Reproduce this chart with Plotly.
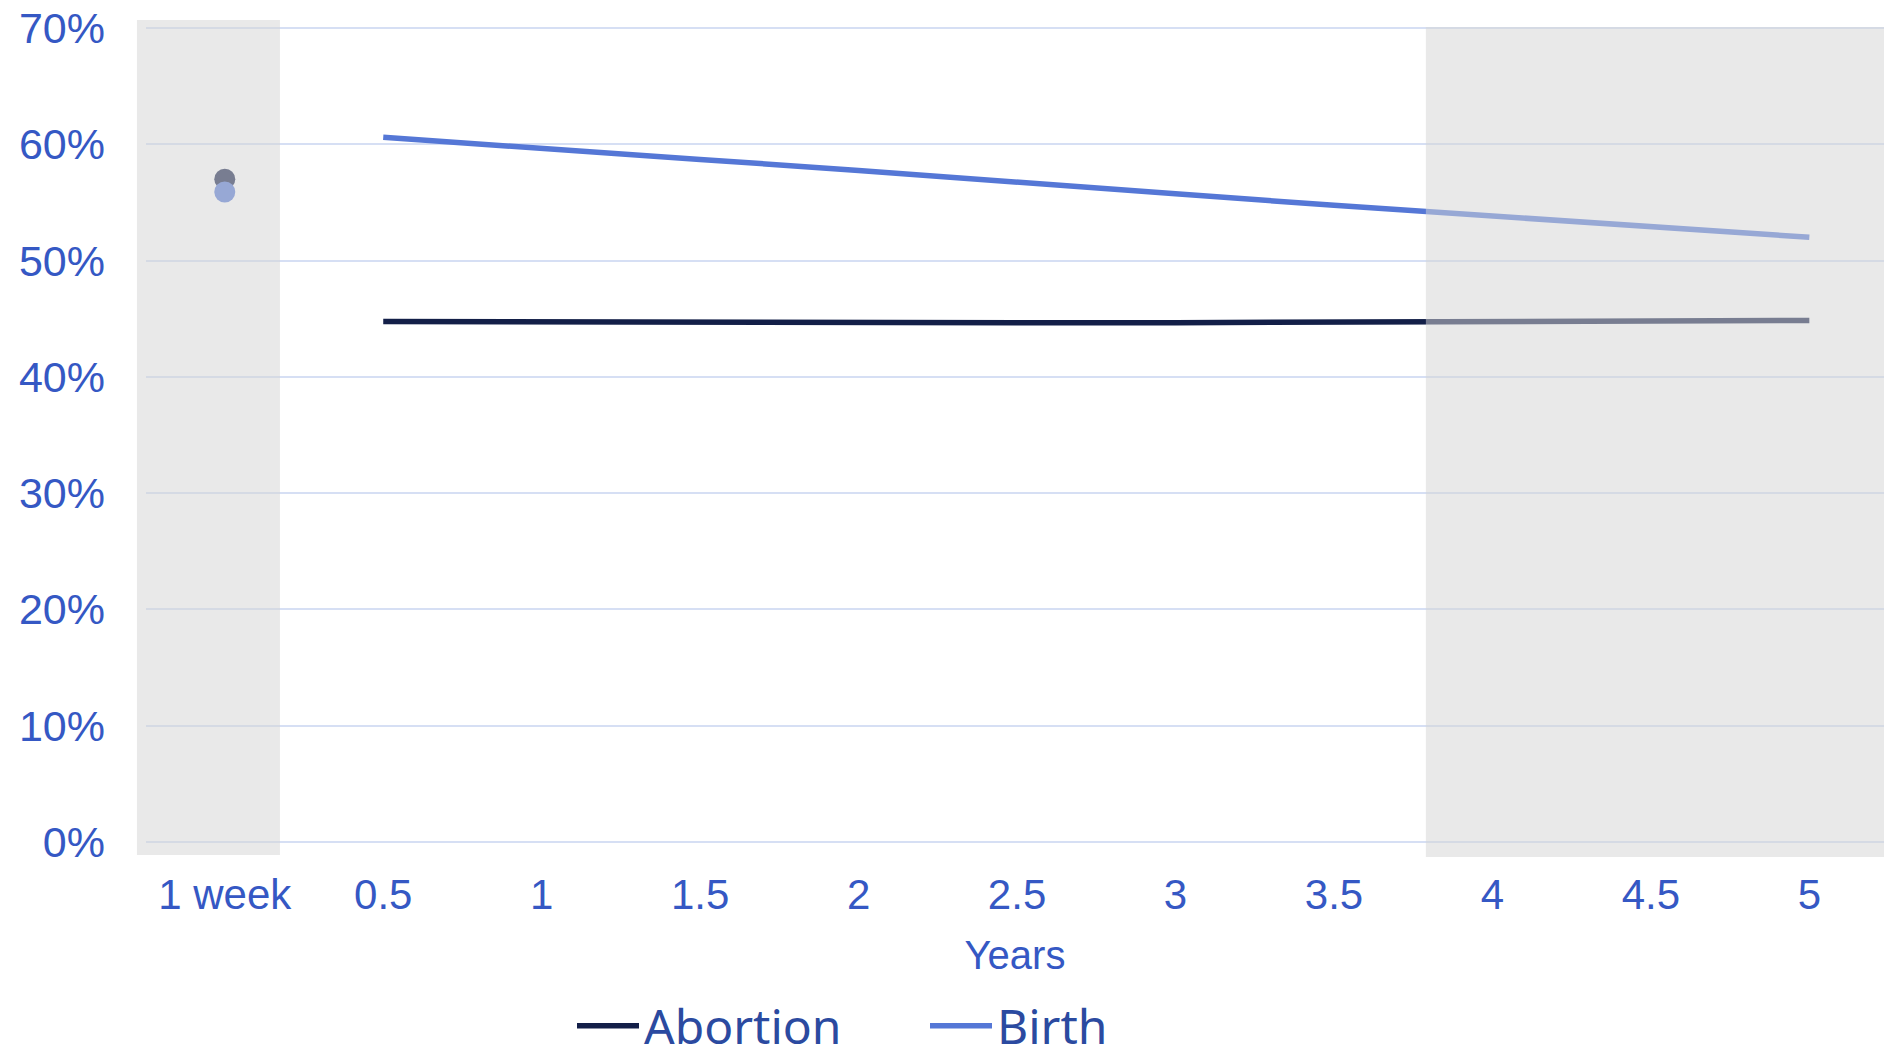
import plotly.graph_objects as go

# ---------------- data ----------------
years = [0.5, 1, 1.5, 2, 2.5, 3, 3.5, 4, 4.5, 5]
abortion = [44.75, 44.7, 44.68, 44.65, 44.65, 44.66, 44.7, 44.75, 44.8, 44.85]
birth = [60.6, 59.6, 58.7, 57.75, 56.8, 55.75, 54.75, 53.8, 52.9, 52.0]

week_x = [0]
week_abortion = [57.0]
week_birth = [55.9]

tick_vals = [0, 0.5, 1, 1.5, 2, 2.5, 3, 3.5, 4, 4.5, 5]
tick_text = ["1 week", "0.5", "1", "1.5", "2", "2.5", "3", "3.5", "4", "4.5", "5"]
y_ticks = [0, 10, 20, 30, 40, 50, 60, 70]
y_tick_text = ["0%", "10%", "20%", "30%", "40%", "50%", "60%", "70%"]

# shaded (data-unit) regions: (x0, x1, y0, y1)
shade_left = (-0.277, 0.174, -1.12, 70.69)
shade_right = (3.79, 5.2356, -1.29, 70.09)

X_RANGE = [-0.2486, 5.2356]
Y_RANGE = [-0.344, 70.344]

ABORTION_COLOR = "#131f48"
BIRTH_COLOR = "#5577d6"
TICK_COLOR = "#3558c4"
LEGEND_COLOR = "#2b4aa0"

fig = go.Figure()

fig.add_trace(go.Scatter(x=years, y=abortion, mode="lines", name="Abortion",
                         line=dict(color=ABORTION_COLOR, width=5.5)))
fig.add_trace(go.Scatter(x=years, y=birth, mode="lines", name="Birth",
                         line=dict(color=BIRTH_COLOR, width=5.5)))
fig.add_trace(go.Scatter(x=week_x, y=week_abortion, mode="markers", showlegend=False,
                         marker=dict(color=ABORTION_COLOR, size=21)))
fig.add_trace(go.Scatter(x=week_x, y=week_birth, mode="markers", showlegend=False,
                         marker=dict(color=BIRTH_COLOR, size=21)))


def to_dom(v, rng):
    return (v - rng[0]) / (rng[1] - rng[0])


for (x0, x1, y0, y1) in (shade_left, shade_right):
    fig.add_shape(type="rect", xref="x domain", yref="y domain",
                  x0=to_dom(x0, X_RANGE), x1=to_dom(x1, X_RANGE),
                  y0=to_dom(y0, Y_RANGE), y1=to_dom(y1, Y_RANGE),
                  fillcolor="rgba(212,212,212,0.52)", line=dict(width=0),
                  layer="above")

fig.update_layout(
    width=1884, height=1062,
    margin=dict(l=146, r=0, t=24, b=216, autoexpand=False),
    paper_bgcolor="white", plot_bgcolor="white",
    font=dict(family="Liberation Sans, Arial, sans-serif", color=TICK_COLOR, size=42),
    showlegend=True,
    legend=dict(orientation="h", xref="container", yref="container",
                x=572 / 1884, xanchor="left",
                y=1 - 988 / 1062, yanchor="top",
                font=dict(family="Noto Sans, sans-serif", size=48, color=LEGEND_COLOR),
                bgcolor="rgba(0,0,0,0)", itemwidth=62, entrywidth=276,
                entrywidthmode="pixels"),
)

fig.update_xaxes(range=X_RANGE, tickvals=tick_vals, ticktext=tick_text,
                 showgrid=False, zeroline=False, showline=False, ticks="",
                 ticklabelstandoff=20,
                 tickfont=dict(size=42, color=TICK_COLOR),
                 title=dict(text="Years", font=dict(size=40, color=TICK_COLOR), standoff=23))
fig.update_yaxes(range=Y_RANGE, tickvals=y_ticks, ticktext=y_tick_text,
                 showgrid=True, gridcolor="#d6dff4", gridwidth=2,
                 zeroline=False, showline=False, ticks="",
                 ticklabelstandoff=40,
                 tickfont=dict(size=43, color=TICK_COLOR))

fig.write_html("out.html", config={"displayModeBar": False},
               post_script="document.body.style.margin='0';")
